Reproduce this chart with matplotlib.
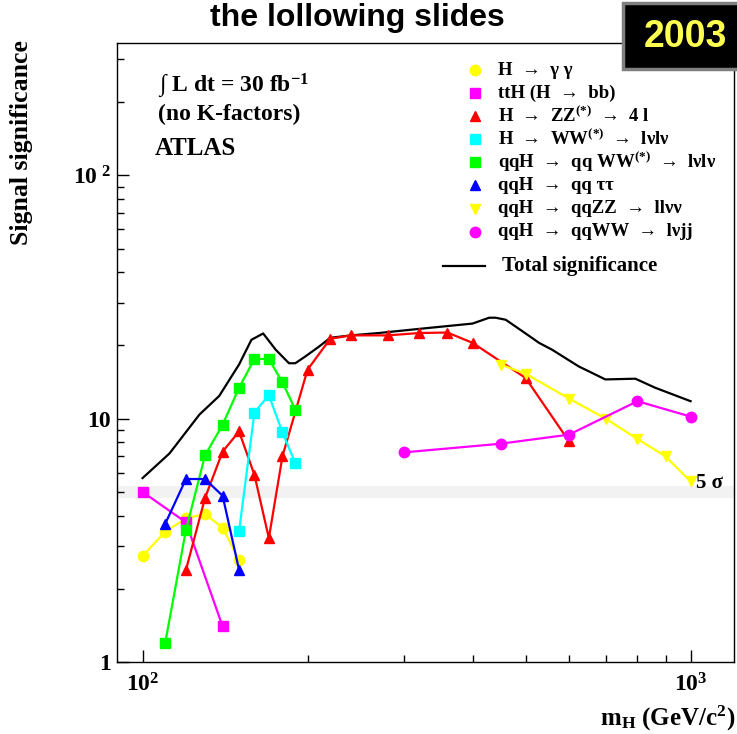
import numpy as np
import matplotlib
matplotlib.use('Agg')
import matplotlib.pyplot as plt
from matplotlib.ticker import FixedLocator, FixedFormatter, NullFormatter
from matplotlib.patches import Rectangle

plt.rcParams['font.family'] = ['Liberation Serif', 'DejaVu Serif']
plt.rcParams['font.weight'] = 'bold'
plt.rcParams['mathtext.fontset'] = 'custom'
plt.rcParams['mathtext.rm'] = 'Liberation Serif:bold'
plt.rcParams['mathtext.it'] = 'Liberation Serif:italic:bold'
plt.rcParams['mathtext.bf'] = 'Liberation Serif:bold'

#------------------------ values ------------------------
# H -> gamma gamma
m_gg = [100, 110, 120, 130, 140, 150]
s_gg = [2.73, 3.43, 3.89, 4.06, 3.56, 2.63]
# ttH (H -> bb)
m_tth = [100, 120, 140]
s_tth = [5.0, 3.75, 1.40]
# H -> ZZ(*) -> 4l
m_zz = [120, 130, 140, 150, 160, 170, 180, 200, 220, 240, 280, 320, 360, 400, 500, 600]
s_zz = [2.39, 4.72, 7.33, 8.86, 5.88, 3.23, 7.0, 15.9, 21.3, 22.0, 22.0, 22.5, 22.6, 20.5, 14.7, 8.07]
# H -> WW(*) -> lvlv
m_ww = [150, 160, 170, 180, 190]
s_ww = [3.44, 10.6, 12.5, 8.78, 6.57]
# qqH -> qq WW(*) -> lvlv
m_qqww = [110, 120, 130, 140, 150, 160, 170, 180, 190]
s_qqww = [1.2, 3.49, 7.06, 9.45, 13.4, 17.6, 17.6, 14.1, 10.9]
# qqH -> qq tautau
m_tt = [110, 120, 130, 140, 150]
s_tt = [3.70, 5.65, 5.65, 4.82, 2.39]
# qqH -> qqZZ -> llvv
m_llvv = [450, 500, 600, 700, 800, 900, 1000]
s_llvv = [16.7, 15.3, 12.1, 10.0, 8.25, 7.0, 5.52]
# qqH -> qqWW -> lvjj
m_lvjj = [300, 450, 600, 800, 1000]
s_lvjj = [7.27, 7.89, 8.6, 11.8, 10.2]
# total significance
m_tot = [100, 112, 127, 138, 150, 158, 166, 175, 185, 190, 198, 210, 220, 240, 270,
         320, 400, 429, 441, 460, 493, 529, 559, 625, 699, 793, 862, 1000]
s_tot = [5.7, 7.2, 10.4, 12.4, 16.7, 21.1, 22.4, 19.2, 16.9, 16.9, 18.0, 19.8, 21.5, 22.0, 22.5,
         23.4, 24.6, 26.0, 26.0, 25.5, 22.9, 20.5, 19.2, 16.4, 14.5, 14.6, 13.4, 11.8]

labels = ['H  \u2192  \u03b3 \u03b3',
          'ttH (H  \u2192  bb)',
          'H  \u2192  ZZ$^{(*)}$  \u2192  4 l',
          'H  \u2192  WW$^{(*)}$  \u2192  l\u03bdl\u03bd',
          'qqH  \u2192  qq WW$^{(*)}$  \u2192  l\u03bdl\u03bd',
          'qqH  \u2192  qq \u03c4\u03c4',
          'qqH  \u2192  qqZZ  \u2192  ll\u03bd\u03bd',
          'qqH  \u2192  qqWW  \u2192  l\u03bdjj']
colors = ['#ffff00', '#ff00ff', '#ff0000', '#00ffff', '#00ff00', '#0000ff', '#ffff00', '#ff00ff']
markers = ['o', 's', '^', 's', 's', '^', 'v', 'o']
xs = [m_gg, m_tth, m_zz, m_ww, m_qqww, m_tt, m_llvv, m_lvjj]
ys = [s_gg, s_tth, s_zz, s_ww, s_qqww, s_tt, s_llvv, s_lvjj]

fig = plt.figure(figsize=(7.37, 7.34), dpi=100)
ax = fig.add_axes([0.1594, 0.0981, 0.8365, 0.8433])
ax.set_xscale('log')
ax.set_yscale('log')
ax.set_xlim(90, 1200)
ax.set_ylim(1, 350)

# 5 sigma band
ax.axhspan(4.72, 5.28, color='#f2f2f2', lw=0, zorder=0)
ax.text(1025, 5.45, '5 \u03c3', fontsize=15, va='center', ha='left')

ax.plot(m_tot, s_tot, color='black', lw=1.6, zorder=2)
for x, y, c, mk in zip(xs, ys, colors, markers):
    ax.plot(x, y, color=c, marker=mk, ms=7.5, mec=c, lw=1.6, zorder=3)

# legend, drawn by hand like the ROOT one
for i in range(len(labels)):
    yy = 0.9564 - i * 0.0373
    ax.plot([0.580], [yy], marker=markers[i], color=colors[i], ms=7.5,
            transform=ax.transAxes, clip_on=False)
    ax.text(0.617, yy, labels[i], transform=ax.transAxes, fontsize=13.5, va='center')
ax.plot([0.528, 0.596], [0.6397, 0.6397], color='black', lw=1.6, transform=ax.transAxes)
ax.text(0.6237, 0.6397, 'Total significance', transform=ax.transAxes, fontsize=15, va='center')

ax.text(0.0657, 0.9305, '\u222b L dt = 30 fb$^{-1}$', transform=ax.transAxes, fontsize=17, va='center')
ax.text(0.0657, 0.8853, '(no K-factors)', transform=ax.transAxes, fontsize=17, va='center')
ax.text(0.061, 0.8288, 'ATLAS', transform=ax.transAxes, fontsize=18, va='center')

# ticks
ax.xaxis.set_major_locator(FixedLocator([100, 1000]))
ax.xaxis.set_major_formatter(FixedFormatter(['10$^{2}$', '10$^{3}$']))
ax.xaxis.set_minor_locator(FixedLocator([200, 300, 400, 500, 600, 700, 800, 900]))
ax.xaxis.set_minor_formatter(NullFormatter())
ax.yaxis.set_major_locator(FixedLocator([1, 10, 100]))
ax.yaxis.set_major_formatter(FixedFormatter(['1', '10', '10$^{\\ 2}$']))
ax.yaxis.set_minor_locator(FixedLocator([2, 3, 4, 5, 6, 7, 8, 9, 20, 30, 40, 50, 60, 70, 80, 90, 200, 300]))
ax.yaxis.set_minor_formatter(NullFormatter())
ax.tick_params(which='both', direction='in', top=False, right=False, width=1)
ax.tick_params(which='major', length=8.6, labelsize=17)
ax.tick_params(which='minor', length=4.7)
ax.tick_params(axis='x', which='major', pad=8)
ax.tick_params(axis='y', which='major', pad=5)
for sp in ax.spines.values():
    sp.set_linewidth(1.0)

fig.text(22 / 737, 1 - 40 / 734, 'Signal significance', rotation=90, ha='center', va='top', fontsize=18.5)
fig.text(735 / 737, 1 - 718 / 734, 'm$_{\\mathrm{H}}$ (GeV/c$^{2}$)', ha='right', va='center', fontsize=18)

fig.text(357 / 737, 1 - 18 / 734, 'the lollowing slides', ha='center', va='center',
         family='Liberation Sans', weight='bold', fontsize=23)
fig.add_artist(Rectangle((623 / 737, 1 - 69 / 734), 0.16, 66 / 734, transform=fig.transFigure,
                         facecolor='black', edgecolor='#808080', lw=2.5))
fig.text(685 / 737, 1 - 37 / 734, '2003', ha='center', va='center', color='#ffff50',
         family='Liberation Sans', weight='bold', fontsize=27)

fig.savefig('out.png', dpi=100)
